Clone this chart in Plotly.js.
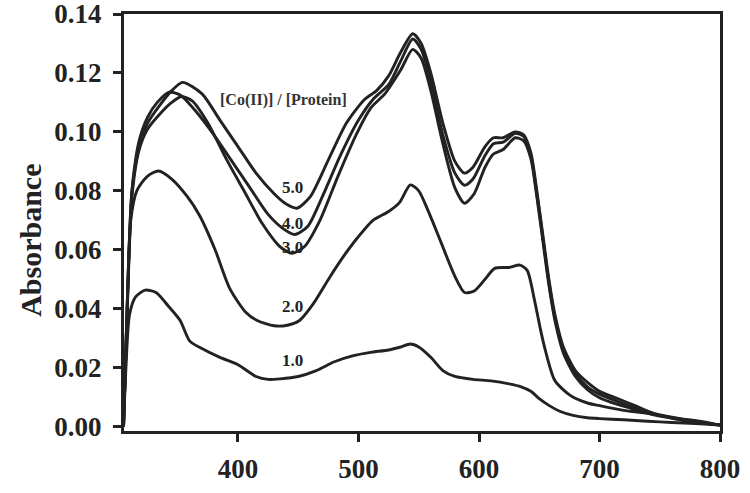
<!DOCTYPE html>
<html>
<head>
<meta charset="utf-8">
<script src="https://cdn.plot.ly/plotly-3.0.1.min.js"></script>
<style>html,body{margin:0;padding:0;background:#fff;}#chart{width:750px;height:493px;}</style>
</head>
<body>
<div id="chart"></div>
<script>
// Wavelength (nm) / absorbance pairs for each [Co(II)]/[Protein] ratio
const wl_1 = [305,307,310,315,323,332,342,352,360,370,385,400,415,425,435,450,465,480,495,510,525,535,543,550,560,570,580,595,610,625,635,643,650,658,667,678,690,700,720,740,760,780,800];
const abs_1 = [0,0.020,0.038,0.044,0.0463,0.0455,0.041,0.036,0.029,0.0265,0.0235,0.021,0.017,0.016,0.0162,0.017,0.019,0.022,0.024,0.0252,0.026,0.027,0.028,0.027,0.0235,0.019,0.017,0.016,0.0155,0.0145,0.0135,0.012,0.0095,0.0072,0.0052,0.0038,0.003,0.0027,0.0023,0.0018,0.0014,0.001,0.0005];

const wl_2 = [305,308,311,316,325,334,345,358,368,381,393,406,416,430,440,451,463,476,488,499,512,525,534,543,550,558,568,580,588,596,605,613,625,634,640,646,651,655,663,676,690,700,720,742,760,783,800];
const abs_2 = [0,0.040,0.070,0.080,0.085,0.0867,0.084,0.078,0.0717,0.060,0.047,0.039,0.036,0.0342,0.0343,0.036,0.042,0.0506,0.058,0.064,0.070,0.073,0.076,0.082,0.080,0.073,0.063,0.051,0.0455,0.046,0.050,0.0537,0.054,0.0548,0.053,0.043,0.033,0.026,0.0156,0.0105,0.008,0.0071,0.0055,0.0044,0.003,0.0018,0.0005];

const wl_3 = [305,308,312,318,325,335,345,353,362,375,390,405,420,435,445,455,468,483,498,510,522,535,545,552,560,570,580,588,596,605,612,620,630,637,643,648,653,658,663,670,680,690,700,715,730,745,760,775,790,800];
const abs_3 = [0,0.038,0.078,0.094,0.101,0.106,0.110,0.112,0.1105,0.103,0.091,0.080,0.069,0.061,0.0588,0.061,0.070,0.085,0.099,0.108,0.113,0.121,0.128,0.125,0.114,0.096,0.081,0.0758,0.079,0.088,0.0925,0.094,0.098,0.097,0.091,0.078,0.063,0.048,0.036,0.025,0.017,0.0125,0.0098,0.0075,0.0057,0.004,0.0028,0.0017,0.001,0.0005];

const wl_4 = [305,308,312,318,325,333,343,352,365,380,395,410,425,438,447,458,470,485,500,512,525,535,545,552,560,570,580,588,595,605,612,620,630,637,643,648,653,658,663,670,680,690,700,715,730,745,760,775,790,800];
const abs_4 = [0,0.040,0.080,0.097,0.105,0.110,0.1135,0.1125,0.107,0.099,0.090,0.081,0.072,0.067,0.0652,0.068,0.078,0.092,0.104,0.111,0.116,0.124,0.1315,0.128,0.117,0.099,0.086,0.0819,0.084,0.092,0.096,0.0965,0.0995,0.0985,0.092,0.079,0.064,0.049,0.037,0.026,0.018,0.0135,0.011,0.0085,0.0063,0.0042,0.003,0.0018,0.001,0.0005];

const wl_5 = [305,308,312,318,325,335,345,354,370,385,400,415,430,440,449,460,475,490,505,515,525,535,545,552,560,570,580,588,595,605,612,620,630,637,643,648,653,658,663,670,680,690,700,715,730,745,760,775,790,800];
const abs_5 = [0,0.040,0.080,0.095,0.103,0.109,0.114,0.1168,0.113,0.104,0.095,0.086,0.079,0.0755,0.0741,0.078,0.0905,0.103,0.111,0.114,0.119,0.127,0.1333,0.130,0.120,0.103,0.090,0.086,0.088,0.095,0.098,0.098,0.100,0.099,0.093,0.080,0.065,0.050,0.038,0.027,0.019,0.015,0.012,0.0095,0.007,0.0045,0.0032,0.002,0.001,0.0006];

const seriesNames = ['1.0','2.0','3.0','4.0','5.0'];
const labelX = [445,445,445,445,445];
const labelY = [0.0224,0.0408,0.0608,0.069,0.081];
const legendTitle = '[Co(II)] / [Protein]';
const yTitle = 'Absorbance';

const xs = [wl_1, wl_2, wl_3, wl_4, wl_5];
const ys = [abs_1, abs_2, abs_3, abs_4, abs_5];

const serif = 'Liberation Serif, Times New Roman, serif';
const ink = '#222222';

const traces = xs.map((x, i) => ({
  x: x, y: ys[i], type: 'scatter', mode: 'lines', name: seriesNames[i],
  line: {color: ink, width: 2.9, shape: 'spline', smoothing: 0.7},
  hoverinfo: 'skip'
}));

const annotations = seriesNames.map((n, i) => ({
  x: labelX[i], y: labelY[i], xref: 'x', yref: 'y', text: n, showarrow: false,
  font: {family: serif, size: 17, weight: 'bold', color: ink}
}));
annotations.push({
  x: 438, y: 0.1108, xref: 'x', yref: 'y', text: legendTitle, showarrow: false,
  font: {family: serif, size: 16, weight: 'bold', color: '#333'}
});
annotations.push({
  x: -0.158, y: 0.458, xref: 'paper', yref: 'paper', text: yTitle, showarrow: false,
  textangle: -90, xanchor: 'center', yanchor: 'middle',
  font: {family: serif, size: 30, weight: 'bold', color: ink}
});

const layout = {
  width: 750, height: 493,
  margin: {l: 124, r: 30, t: 14, b: 62, pad: 0},
  paper_bgcolor: '#fff', plot_bgcolor: '#fff',
  showlegend: false,
  xaxis: {
    range: [305.4, 800], tickvals: [400,500,600,700,800], ticktext: ['400','500','600','700','800'],
    showgrid: false, zeroline: false, showline: true, mirror: true,
    linecolor: ink, linewidth: 3, ticks: 'outside', ticklen: 8, tickwidth: 3, tickcolor: ink,
    tickfont: {family: serif, size: 27, weight: 'bold', color: ink},
    ticklabelstandoff: 4, ticklabeloverflow: 'allow'
  },
  yaxis: {
    range: [-0.0015, 0.14], tickvals: [0,0.02,0.04,0.06,0.08,0.10,0.12,0.14],
    ticktext: ['0.00','0.02','0.04','0.06','0.08','0.10','0.12','0.14'],
    showgrid: false, zeroline: false, showline: true, mirror: true,
    linecolor: ink, linewidth: 3, ticks: 'outside', ticklen: 8, tickwidth: 3, tickcolor: ink,
    tickfont: {family: serif, size: 27, weight: 'bold', color: ink},
    ticklabelstandoff: 6, ticklabeloverflow: 'allow'
  },
  annotations: annotations
};

Plotly.newPlot('chart', traces, layout, {staticPlot: true, displayModeBar: false});
</script>
</body>
</html>
